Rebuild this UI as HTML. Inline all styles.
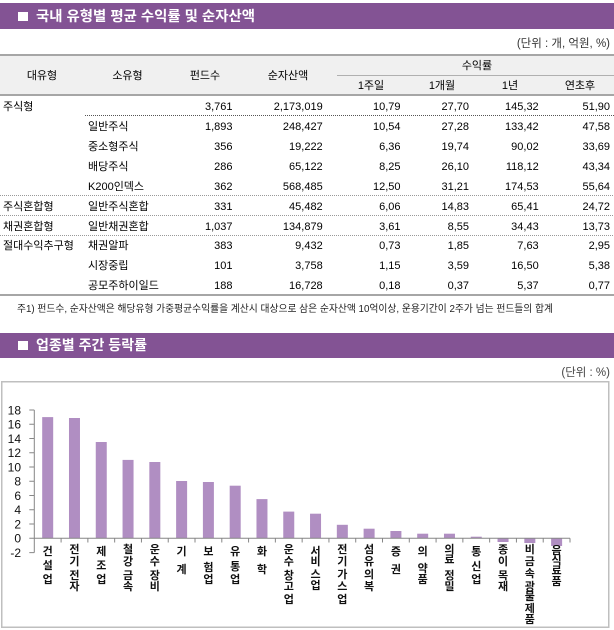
<!DOCTYPE html>
<html><head><meta charset="utf-8">
<style>
html,body{margin:0;padding:0;background:#fff;}
svg{display:block;}
text{font-family:"Liberation Sans","Noto Sans CJK KR",sans-serif;}
.k{font-family:"Liberation Sans","Noto Sans CJK KR",sans-serif;}
</style></head>
<body>
<svg width="614" height="630" viewBox="0 0 614 630" xmlns="http://www.w3.org/2000/svg">
<!-- Header 1 -->
<rect x="0" y="3" width="614" height="26" fill="#835394"/>
<rect x="18" y="12" width="10" height="9" fill="#fff"/>
<text x="36" y="21" font-size="14" font-weight="bold" fill="#fff" textLength="219" lengthAdjust="spacingAndGlyphs">국내 유형별 평균 수익률 및 순자산액</text>
<text x="610" y="47" font-size="11.5" fill="#333" text-anchor="end">(단위 : 개, 억원, %)</text>

<!-- Table header -->
<rect x="0" y="55" width="614" height="40" fill="#f0f0f0"/>
<rect x="0" y="54" width="614" height="2" fill="#a6a6a6"/>
<rect x="0" y="94" width="614" height="2" fill="#a6a6a6"/>
<line x1="337" y1="75.5" x2="614" y2="75.5" stroke="#b0b0b0" stroke-width="1"/>
<g font-size="11" fill="#000" text-anchor="middle">
<text x="42" y="79">대유형</text>
<text x="127.5" y="79">소유형</text>
<text x="205" y="79">펀드수</text>
<text x="288" y="79">순자산액</text>
<text x="477" y="69">수익률</text>
<text x="371" y="89">1주일</text>
<text x="442" y="89">1개월</text>
<text x="510" y="89">1년</text>
<text x="580" y="89">연초후</text>
</g>

<!-- Table rows -->
<g font-size="11" fill="#000">
<text x="3" y="110">주식형</text>
<text x="3" y="210">주식혼합형</text>
<text x="3" y="230">채권혼합형</text>
<text x="3" y="249">절대수익추구형</text>
<text x="88" y="130">일반주식</text>
<text x="88" y="150">중소형주식</text>
<text x="88" y="170">배당주식</text>
<text x="88" y="190">K200인덱스</text>
<text x="88" y="210">일반주식혼합</text>
<text x="88" y="230">일반채권혼합</text>
<text x="88" y="249">채권알파</text>
<text x="88" y="269">시장중립</text>
<text x="88" y="289">공모주하이일드</text>
</g>
<g font-size="11" fill="#000" text-anchor="end">
<text x="232.5" y="110">3,761</text><text x="322.7" y="110">2,173,019</text><text x="400.5" y="110">10,79</text><text x="469" y="110">27,70</text><text x="538.7" y="110">145,32</text><text x="610" y="110">51,90</text>
<text x="232.5" y="130">1,893</text><text x="322.7" y="130">248,427</text><text x="400.5" y="130">10,54</text><text x="469" y="130">27,28</text><text x="538.7" y="130">133,42</text><text x="610" y="130">47,58</text>
<text x="232.5" y="150">356</text><text x="322.7" y="150">19,222</text><text x="400.5" y="150">6,36</text><text x="469" y="150">19,74</text><text x="538.7" y="150">90,02</text><text x="610" y="150">33,69</text>
<text x="232.5" y="170">286</text><text x="322.7" y="170">65,122</text><text x="400.5" y="170">8,25</text><text x="469" y="170">26,10</text><text x="538.7" y="170">118,12</text><text x="610" y="170">43,34</text>
<text x="232.5" y="190">362</text><text x="322.7" y="190">568,485</text><text x="400.5" y="190">12,50</text><text x="469" y="190">31,21</text><text x="538.7" y="190">174,53</text><text x="610" y="190">55,64</text>
<text x="232.5" y="210">331</text><text x="322.7" y="210">45,482</text><text x="400.5" y="210">6,06</text><text x="469" y="210">14,83</text><text x="538.7" y="210">65,41</text><text x="610" y="210">24,72</text>
<text x="232.5" y="230">1,037</text><text x="322.7" y="230">134,879</text><text x="400.5" y="230">3,61</text><text x="469" y="230">8,55</text><text x="538.7" y="230">34,43</text><text x="610" y="230">13,73</text>
<text x="232.5" y="249">383</text><text x="322.7" y="249">9,432</text><text x="400.5" y="249">0,73</text><text x="469" y="249">1,85</text><text x="538.7" y="249">7,63</text><text x="610" y="249">2,95</text>
<text x="232.5" y="269">101</text><text x="322.7" y="269">3,758</text><text x="400.5" y="269">1,15</text><text x="469" y="269">3,59</text><text x="538.7" y="269">16,50</text><text x="610" y="269">5,38</text>
<text x="232.5" y="289">188</text><text x="322.7" y="289">16,728</text><text x="400.5" y="289">0,18</text><text x="469" y="289">0,37</text><text x="538.7" y="289">5,37</text><text x="610" y="289">0,77</text>
</g>
<line x1="85" y1="115.5" x2="614" y2="115.5" stroke="#555" stroke-width="1" stroke-dasharray="1,1"/>
<line x1="0" y1="195.5" x2="614" y2="195.5" stroke="#999" stroke-width="1" stroke-dasharray="1,1"/>
<line x1="0" y1="215.5" x2="614" y2="215.5" stroke="#999" stroke-width="1" stroke-dasharray="1,1"/>
<line x1="0" y1="235.5" x2="614" y2="235.5" stroke="#999" stroke-width="1" stroke-dasharray="1,1"/>
<rect x="0" y="294" width="614" height="2" fill="#a6a6a6"/>
<text x="17" y="312" font-size="10" fill="#222" textLength="536" lengthAdjust="spacingAndGlyphs">주1) 펀드수, 순자산액은 해당유형 가중평균수익률을 계산시 대상으로 삼은 순자산액 10억이상, 운용기간이 2주가 넘는 펀드들의 합계</text>

<!-- Header 2 -->
<rect x="0" y="333" width="614" height="25" fill="#835394"/>
<rect x="18" y="341" width="10" height="9" fill="#fff"/>
<text x="36" y="350" font-size="14" font-weight="bold" fill="#fff" textLength="111" lengthAdjust="spacingAndGlyphs">업종별 주간 등락률</text>
<text x="610" y="376" font-size="11.5" fill="#444" text-anchor="end">(단위 : %)</text>

<!-- Chart box -->
<rect x="1.75" y="381.75" width="607" height="245.5" fill="none" stroke="#bfbfbf" stroke-width="1.5"/>

<!-- Bars -->
<g fill="#b08ec2">
<rect x="42.19" y="417.1" width="11" height="121.2"/>
<rect x="68.98" y="418.0" width="11" height="120.3"/>
<rect x="95.76" y="442.0" width="11" height="96.3"/>
<rect x="122.55" y="459.9" width="11" height="78.4"/>
<rect x="149.33" y="462.0" width="11" height="76.3"/>
<rect x="176.12" y="481.0" width="11" height="57.3"/>
<rect x="202.90" y="482.0" width="11" height="56.3"/>
<rect x="229.69" y="485.7" width="11" height="52.6"/>
<rect x="256.47" y="499.1" width="11" height="39.2"/>
<rect x="283.26" y="511.6" width="11" height="26.7"/>
<rect x="310.04" y="513.7" width="11" height="24.6"/>
<rect x="336.83" y="524.8" width="11" height="13.5"/>
<rect x="363.61" y="528.7" width="11" height="9.6"/>
<rect x="390.40" y="531.0" width="11" height="7.3"/>
<rect x="417.19" y="533.7" width="11" height="4.6"/>
<rect x="443.97" y="533.7" width="11" height="4.6"/>
<rect x="470.76" y="536.7" width="11" height="1.6"/>
<rect x="497.54" y="538.3" width="11" height="3.7"/>
<rect x="524.33" y="538.3" width="11" height="4.7"/>
<rect x="551.11" y="538.3" width="11" height="7.7"/>
</g>

<!-- Axes -->
<g stroke="#868686" stroke-width="1" fill="none">
<line x1="34.3" y1="410" x2="34.3" y2="552.6"/>
<line x1="34.3" y1="538.3" x2="570" y2="538.3"/>
<path d="M29.3 410H34.3M29.3 424.2H34.3M29.3 438.5H34.3M29.3 452.7H34.3M29.3 467H34.3M29.3 481.3H34.3M29.3 495.5H34.3M29.3 509.8H34.3M29.3 524H34.3M29.3 538.3H34.3M29.3 552.6H34.3"/>
<path d="M61.09 538.3V542.5M87.87 538.3V542.5M114.66 538.3V542.5M141.44 538.3V542.5M168.23 538.3V542.5M195.01 538.3V542.5M221.8 538.3V542.5M248.58 538.3V542.5M275.37 538.3V542.5M302.15 538.3V542.5M328.94 538.3V542.5M355.72 538.3V542.5M382.51 538.3V542.5M409.29 538.3V542.5M436.08 538.3V542.5M462.86 538.3V542.5M489.65 538.3V542.5M516.43 538.3V542.5M543.22 538.3V542.5M570 538.3V542.5"/>
</g>
<g font-size="12" fill="#111" text-anchor="end">
<text x="21" y="414.3">18</text>
<text x="21" y="428.5">16</text>
<text x="21" y="442.8">14</text>
<text x="21" y="457">12</text>
<text x="21" y="471.3">10</text>
<text x="21" y="485.6">8</text>
<text x="21" y="499.8">6</text>
<text x="21" y="514.1">4</text>
<text x="21" y="528.3">2</text>
<text x="21" y="542.6">0</text>
<text x="21" y="556.9">-2</text>
</g>

<!-- X labels -->
<g font-size="11" font-weight="bold" fill="#111" text-anchor="middle">
<text x="47.69" y="555">건</text><text x="47.69" y="569">설</text><text x="47.69" y="583">업</text>
<text x="74.48" y="553">전</text><text x="74.48" y="565">기</text><text x="74.48" y="579">전</text><text x="74.48" y="590">자</text>
<text x="101.26" y="555">제</text><text x="101.26" y="569">조</text><text x="101.26" y="583">업</text>
<text x="128.05" y="553">철</text><text x="128.05" y="565">강</text><text x="128.05" y="579">금</text><text x="128.05" y="590">속</text>
<text x="154.83" y="553">운</text><text x="154.83" y="565">수</text><text x="154.83" y="579">장</text><text x="154.83" y="590">비</text>
<text x="181.62" y="555">기</text><text x="181.62" y="573">계</text>
<text x="208.40" y="555">보</text><text x="208.40" y="571">험</text><text x="208.40" y="583">업</text>
<text x="235.19" y="555">유</text><text x="235.19" y="570">통</text><text x="235.19" y="583">업</text>
<text x="261.97" y="555">화</text><text x="261.97" y="573">학</text>
<text x="288.76" y="553">운</text><text x="288.76" y="565">수</text><text x="288.76" y="579">창</text><text x="288.76" y="590">고</text><text x="288.76" y="603">업</text>
<text x="315.54" y="555">서</text><text x="315.54" y="565">비</text><text x="315.54" y="578">스</text><text x="315.54" y="589">업</text>
<text x="342.33" y="553">전</text><text x="342.33" y="565">기</text><text x="342.33" y="578">가</text><text x="342.33" y="590">스</text><text x="342.33" y="603">업</text>
<text x="369.11" y="553">섬</text><text x="369.11" y="565">유</text><text x="369.11" y="578">의</text><text x="369.11" y="590">복</text>
<text x="395.90" y="555">증</text><text x="395.90" y="573">권</text>
<text x="422.69" y="555">의</text><text x="422.69" y="572">약</text><text x="422.69" y="583">품</text>
<text x="449.47" y="553">의</text><text x="449.47" y="563">료</text><text x="449.47" y="579">정</text><text x="449.47" y="590">밀</text>
<text x="476.26" y="555">통</text><text x="476.26" y="570">신</text><text x="476.26" y="583">업</text>
<text x="503.04" y="553">종</text><text x="503.04" y="565">이</text><text x="503.04" y="579">목</text><text x="503.04" y="590">재</text>
<text x="529.83" y="553">비</text><text x="529.83" y="565">금</text><text x="529.83" y="577">속</text><text x="529.83" y="590">광</text><text x="529.83" y="600">물</text><text x="529.83" y="612">제</text><text x="529.83" y="623">품</text>
<text x="556.61" y="554">음</text><text x="556.61" y="564">식</text><text x="556.61" y="574">료</text><text x="556.61" y="585">품</text>
</g>
</svg>
</body></html>
